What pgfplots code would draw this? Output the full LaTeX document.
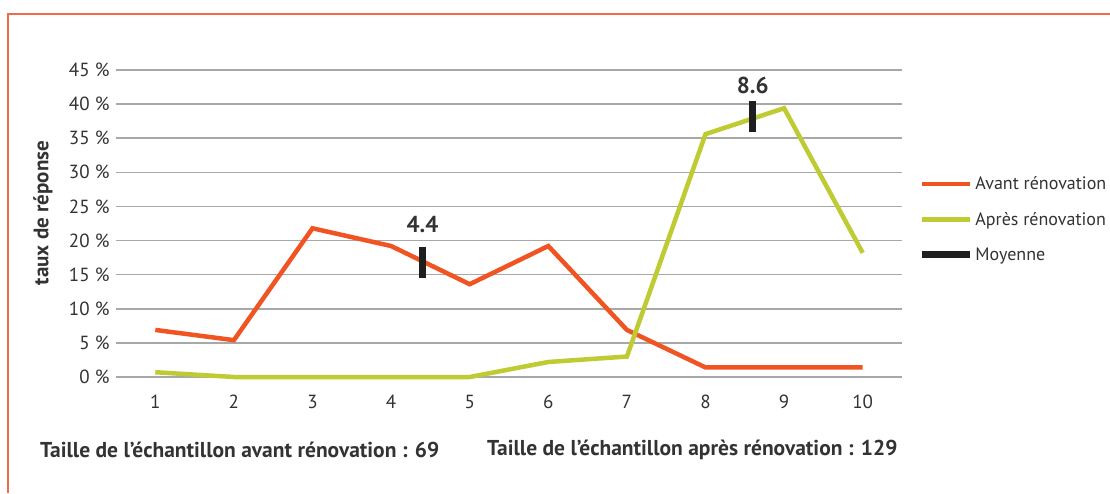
\documentclass[border=0pt]{standalone}
\usepackage{pgfplots}
\pgfplotsset{compat=1.18}
\usepackage{fontspec}
\setmainfont{PT Sans}
\definecolor{avant}{HTML}{F05423}
\definecolor{apres}{HTML}{BECB33}
\definecolor{frameor}{HTML}{F06A4A}
\definecolor{gridc}{HTML}{A8A8A8}
\definecolor{txt}{HTML}{333333}
\begin{document}
\begin{tikzpicture}[x=1pt,y=1pt]
\path[use as bounding box, clip] (0,0) rectangle (1110,493);
\fill[white] (0,0) rectangle (1110,493);
\draw[frameor, line width=1.5pt] (8,0) -- (8,479) -- (1115,479);
\begin{axis}[
  at={(116pt,116pt)}, anchor=south west,
  scale only axis, width=786pt, height=307pt,
  xmin=0.5, xmax=10.5, ymin=0, ymax=45,
  axis line style={draw=none},
  tick style={draw=none},
  clip=false,
  xtick={1,...,10},
  ytick={0,5,...,45},
  yticklabels={0 \%,5 \%,10 \%,15 \%,20 \%,25 \%,30 \%,35 \%,40 \%,45 \%},
  xticklabels={1,2,3,4,5,6,7,8,9,10},
  ymajorgrids, major grid style={gridc, line width=1.5pt},
  major tick length=0pt,
  tick label style={font=\fontsize{19}{22}\selectfont, text=txt},
  yticklabel style={anchor=east, xshift=-3pt},
  xticklabel style={anchor=center, yshift=-25pt},
  legend style={at={(rel axis cs:1.02,0.66)}, anchor=north west, draw=none, fill=none,
    font=\fontsize{18}{21}\selectfont, text=txt, row sep=17pt, inner sep=0pt,
    cells={anchor=west}, legend cell align=left},
  legend image code/.code={\draw[#1, line cap=butt] (0pt,0pt) -- (48pt,0pt);},
]
\addplot[avant, line width=4.5pt, line join=miter] coordinates {
(1,6.9) (2,5.4) (3,21.8) (4,19.2) (5,13.6) (6,19.2) (7,6.9) (8,1.4) (9,1.4) (10,1.4)};
\addlegendentry{Avant rénovation}
\addplot[apres, line width=4.5pt, line join=miter] coordinates {
(1,0.7) (2,0) (3,0) (4,0) (5,0) (6,2.2) (7,3.0) (8,35.6) (9,39.4) (10,18.2)};
\addlegendentry{Après rénovation}
\addplot[black!88, line width=7.5pt] coordinates {(4.4,14.5) (4.4,19.1)};
\addlegendentry{Moyenne}
\addplot[black!88, line width=7.5pt, forget plot] coordinates {(8.6,35.9) (8.6,40.5)};
\node[font=\fontsize{23}{26}\selectfont\bfseries, text=txt] at (axis cs:4.4,22.3) {4.4};
\node[font=\fontsize{23}{26}\selectfont\bfseries, text=txt] at (axis cs:8.6,42.7) {8.6};
\end{axis}
\node[rotate=90, font=\fontsize{21}{24}\selectfont\bfseries, text=txt] at (43,280) {taux de réponse};
\node[anchor=west, font=\fontsize{21.5}{24}\selectfont\bfseries, text=txt, inner sep=0] at (40,43) {Taille de l’échantillon avant rénovation : 69};
\node[anchor=west, font=\fontsize{21.5}{24}\selectfont\bfseries, text=txt, inner sep=0] at (487,43) {Taille de l'échantillon après rénovation : 129};
\end{tikzpicture}
\end{document}
